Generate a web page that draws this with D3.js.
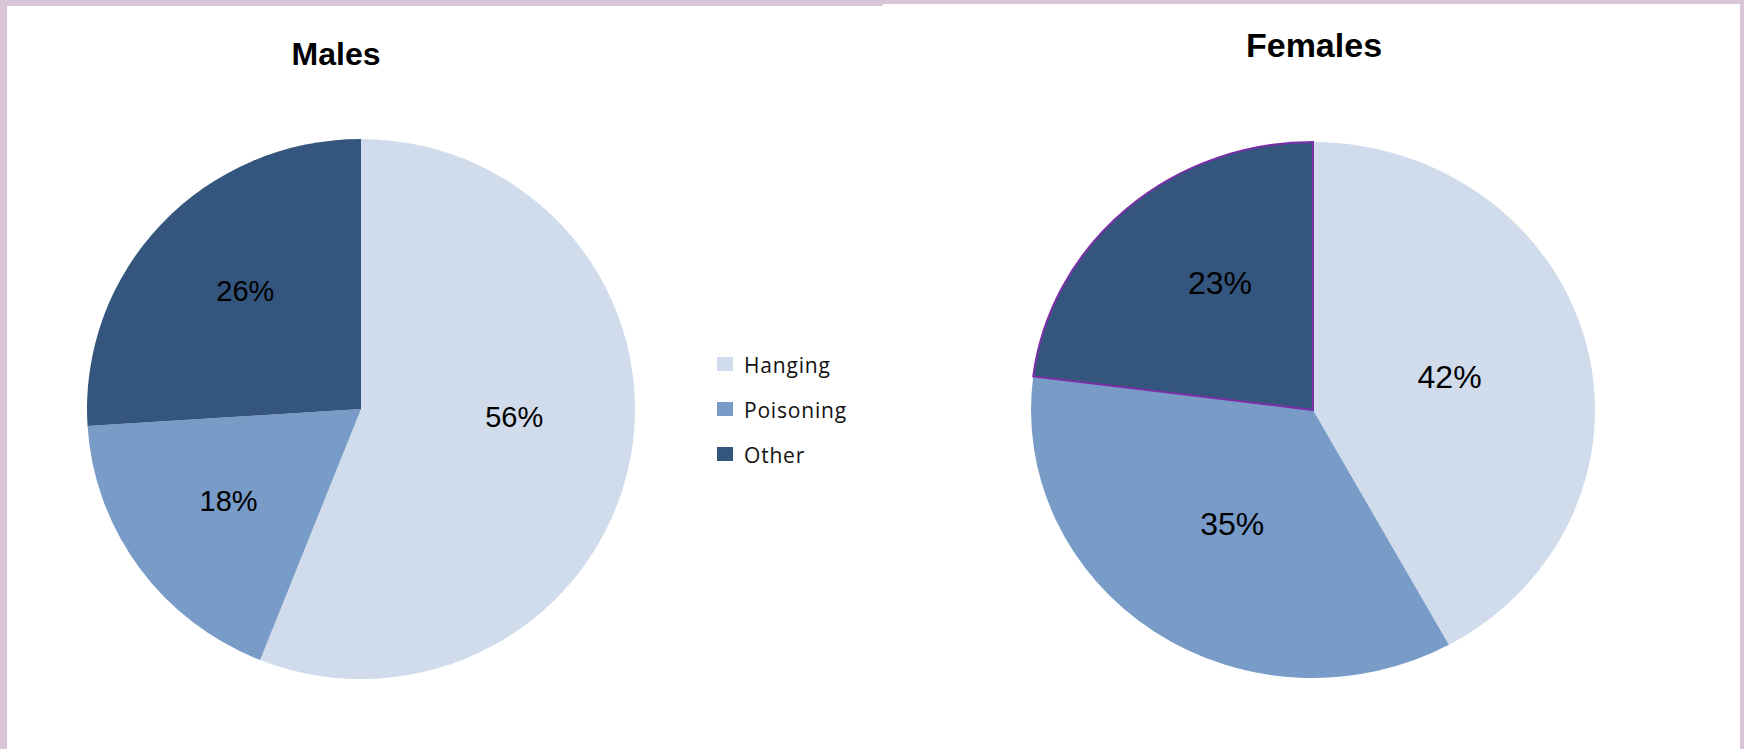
<!DOCTYPE html>
<html>
<head>
<meta charset="utf-8">
<script src="https://cdn.jsdelivr.net/npm/d3@7"></script>
<style>
  html, body { margin: 0; padding: 0; background: #fff; overflow: hidden; }
</style>
</head>
<body>
<div id="chart"></div>
<script>
// Data
const categories = ['Hanging', 'Poisoning', 'Other'];
const malesValues = [56, 18, 26];
const femalesValues = [42, 35, 23];
const colors = ['#D0DCEC', '#789BC8', '#34557D'];

const width = 1744, height = 749;

const svg = d3.select('#chart')
  .append('svg')
  .attr('width', width)
  .attr('height', height);

// Frame around the slide
const frame = '#D9C5D8';
svg.append('rect').attr('x', 0).attr('y', 0).attr('width', 7).attr('height', height).attr('fill', frame);
svg.append('rect').attr('x', 0).attr('y', 0).attr('width', 883).attr('height', 6).attr('fill', frame);
svg.append('rect').attr('x', 883).attr('y', 0).attr('width', width - 883).attr('height', 4).attr('fill', frame);
svg.append('rect').attr('x', 1740).attr('y', 0).attr('width', 4).attr('height', height).attr('fill', frame);

const color = d3.scaleOrdinal().domain(categories).range(colors);

const pie = d3.pie().sort(null).value((d) => d.value);

// Draw one pie; rx/ry let it be slightly elliptical like the original
function drawPie(opts) {
  const data = categories.map((c, i) => ({ name: c, value: opts.values[i] }));
  const arcs = pie(data);
  const sx = opts.rx / opts.ry;

  const g = svg.append('g')
    .attr('transform', `translate(${opts.cx},${opts.cy})`);

  const arc = d3.arc().innerRadius(0).outerRadius(opts.ry);

  g.append('g')
    .attr('transform', `scale(${sx},1)`)
    .selectAll('path')
    .data(arcs)
    .join('path')
    .attr('d', arc)
    .attr('fill', (d) => color(d.data.name))
    .attr('stroke', (d) => (opts.outline && d.data.name === opts.outline ? '#7B2FA8' : 'none'))
    .attr('stroke-width', 2)
    .attr('vector-effect', 'non-scaling-stroke');

  // outlined slice on top so its stroke isn't covered
  g.selectAll('path').filter((d) => opts.outline && d.data.name === opts.outline).raise();

  // label placement: mid angle of the slice, nudged like Excel's best fit
  const labelXY = (d, i) => {
    const a = (d.startAngle + d.endAngle) / 2 + (opts.labelA[i] * Math.PI) / 180;
    const r = opts.ry * opts.labelR[i];
    return [Math.sin(a) * r * sx, -Math.cos(a) * r];
  };

  g.selectAll('text.pct')
    .data(arcs)
    .join('text')
    .attr('class', 'pct')
    .attr('x', (d, i) => labelXY(d, i)[0])
    .attr('y', (d, i) => labelXY(d, i)[1])
    .attr('dy', '0.36em')
    .attr('text-anchor', 'middle')
    .style('font-family', '"Liberation Sans", Arial, sans-serif')
    .style('font-size', opts.labelSize + 'px')
    .style('fill', '#000')
    .text((d) => d.data.value + '%');

  svg.append('text')
    .attr('x', opts.titleX)
    .attr('y', opts.titleY)
    .attr('text-anchor', 'middle')
    .style('font-family', '"Liberation Sans", Arial, sans-serif')
    .style('font-weight', 'bold')
    .style('font-size', opts.titleSize + 'px')
    .style('fill', '#000')
    .text(opts.title);
}

drawPie({
  title: 'Males', values: malesValues,
  cx: 361, cy: 409, rx: 274, ry: 270,
  labelR: [0.56, 0.59, 0.61], labelA: [-8, 1, 3], labelSize: 29,
  titleX: 336, titleY: 65, titleSize: 32
});

drawPie({
  title: 'Females', values: femalesValues,
  cx: 1313, cy: 410, rx: 282, ry: 268,
  labelR: [0.50, 0.51, 0.58], labelA: [0, 0, 6.7], labelSize: 32,
  titleX: 1314, titleY: 57, titleSize: 34,
  outline: 'Other'
});

// Legend between the pies
const legend = svg.append('g')
  .attr('transform', 'translate(717,357)');

const item = legend.selectAll('g')
  .data(categories)
  .join('g')
  .attr('transform', (d, i) => `translate(0,${i * 45})`);

item.append('rect')
  .attr('width', 16)
  .attr('height', 14)
  .attr('fill', (d) => color(d));

item.append('text')
  .attr('x', 27)
  .attr('y', 16)
  .style('font-family', '"Open Sans", "Noto Sans", sans-serif')
  .style('font-size', '21px')
  .style('letter-spacing', '0.8px')
  .style('fill', '#111')
  .text((d) => d);
</script>
</body>
</html>
